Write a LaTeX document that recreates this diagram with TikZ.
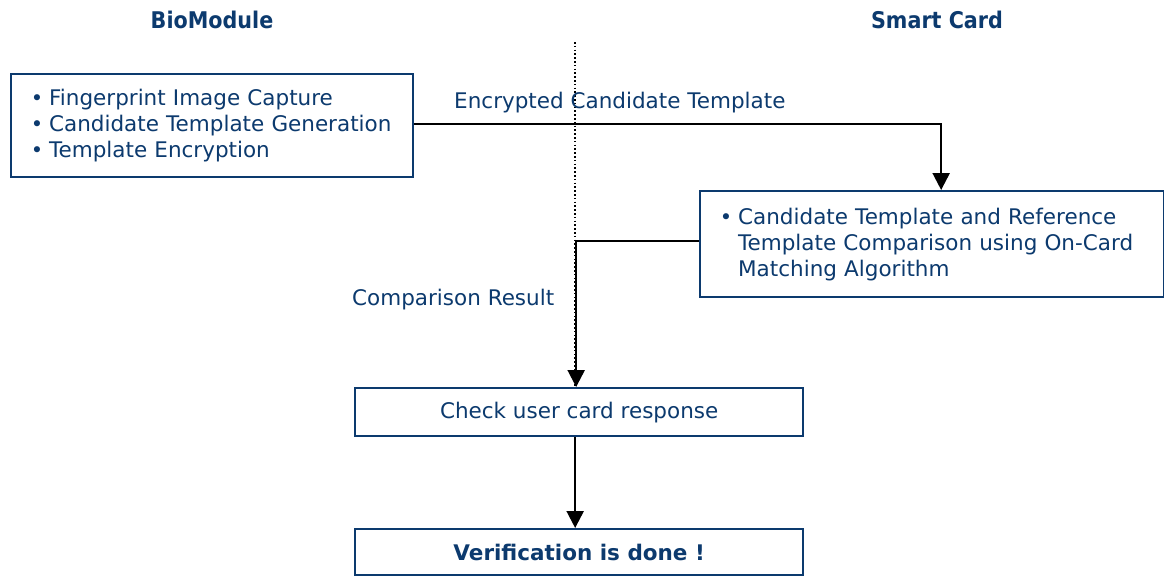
\documentclass[tikz,border=0pt]{standalone}
\usepackage{fontspec}
\setmainfont{DejaVu Sans}
\newfontfamily\headfont{DejaVu Sans Condensed}
\usetikzlibrary{arrows.meta,calc}
\definecolor{navy}{RGB}{12,58,110}
\newcommand{\bul}{\makebox[24pt][c]{\fontsize{21}{26}\selectfont•}}
\begin{document}
\begin{tikzpicture}[x=1pt,y=-1pt,
  every node/.style={text=navy,font=\fontsize{21.5}{26}\selectfont},
  procbox/.style={draw=navy,line width=2.3pt,fill=white,anchor=north west,inner ysep=0pt},
  header/.style={font=\headfont\bfseries\fontsize{23}{26}\selectfont},
  label/.style={anchor=west,inner sep=0pt},
  conn/.style={draw=black,line width=2.3pt,-{Triangle[width=17pt,length=17pt]}},
  divider/.style={draw=black,line width=1.5pt,dash pattern=on 1.5pt off 2.3pt}]
\useasboundingbox (0,0) rectangle (1164,576);

% lane headings and separator
\node[header] (hbio) at (212,20) {BioModule};
\node[header] (hcard) at (937,20) {Smart Card};
\coordinate (dtop) at (575,42);
\coordinate (dbot) at (575,387);
\draw[divider] (dtop) -- (dbot);

% process boxes
\node[procbox,minimum height=103pt,text width=374pt,inner xsep=14pt,align=left] (b1) at (10,73)
  {\bul Fingerprint Image Capture\\
   \bul Candidate Template Generation\\
   \bul Template Encryption};
\node[procbox,minimum height=106pt,text width=436pt,inner xsep=14pt,align=left] (b2) at (699,190)
  {\bul Candidate Template and Reference\\
   \hspace*{24pt}Template Comparison using On-Card\\
   \hspace*{24pt}Matching Algorithm};
\node[procbox,minimum width=448pt,minimum height=48pt] (b3) at (354,387) {Check user card response};
\node[procbox,minimum width=448pt,minimum height=46pt] (b4) at (354,528) {\bfseries Verification is done !};

% connector labels
\node[label] (l1) at (454,103) {Encrypted Candidate Template};
\node[label] (l2) at (352,300) {Comparison Result};

% connectors
\draw[conn] ([yshift=1.5pt]b1.east) -| ([xshift=9pt]b2.north);
\draw[conn] ([yshift=3pt]b2.west) -| ([xshift=-3pt]b3.north);
\draw[conn] ([xshift=-4pt]b3.south) -- ([xshift=-4pt]b4.north);
\end{tikzpicture}
\end{document}
